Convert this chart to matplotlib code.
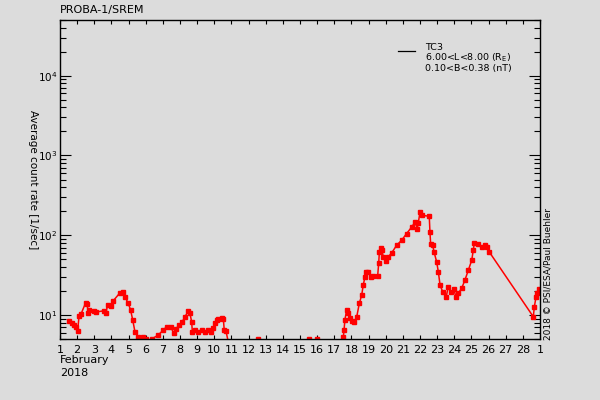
import numpy as np
import matplotlib
matplotlib.use("Agg")
import matplotlib.pyplot as plt
from matplotlib.ticker import FixedLocator, LogLocator, NullFormatter

# ---- data (day of February 2018, average count rate [1/sec]) ----
days = [1.52, 1.68, 1.82, 1.92, 2.03, 2.11, 2.22, 2.50, 2.58, 2.65, 2.69, 3.00, 3.10,
        3.58, 3.68, 3.78, 3.98, 4.11, 4.50, 4.69, 4.79, 4.98, 5.12, 5.24, 5.37, 5.55,
        5.86, 6.00, 6.20, 6.35, 6.73, 7.03, 7.22, 7.47, 7.63, 7.75, 7.94, 8.13, 8.29,
        8.48, 8.58, 8.68, 8.72, 8.87, 9.07, 9.27, 9.46, 9.65, 9.79, 9.94, 10.04, 10.14,
        10.23, 10.47, 10.53, 10.58, 10.68, 11.0, 12.57, 14.0, 15.53, 15.75, 15.97, 17.0,
        17.49, 17.53, 17.57, 17.62, 17.72, 17.82, 17.92, 18.02, 18.15, 18.31, 18.46,
        18.60, 18.69, 18.79, 18.85, 18.98, 19.12, 19.28, 19.53, 19.59, 19.63, 19.71,
        19.78, 19.86, 20.00, 20.15, 20.35, 20.64, 20.93, 21.22, 21.52, 21.71, 21.84,
        21.90, 22.00, 22.10, 22.54, 22.58, 22.62, 22.74, 22.82, 22.97, 23.07, 23.17,
        23.32, 23.52, 23.65, 23.79, 23.98, 24.10, 24.23, 24.43, 24.62, 24.82, 25.02,
        25.11, 25.17, 25.40, 25.60, 25.79, 25.89, 26.04, 28.61, 28.67, 28.77, 28.84,
        28.92]
rates = [8.5, 8.0, 7.5, 7.1, 6.3, 9.7, 10.2, 14.3, 13.7, 10.5, 11.5, 11.3, 10.9,
         11.3, 10.7, 13.3, 13.0, 15.1, 19.0, 19.6, 16.9, 14.0, 11.5, 8.7, 6.2, 5.3,
         5.35, 5.0, 4.0, 5.0, 5.6, 6.5, 7.1, 7.1, 5.9, 6.6, 7.5, 8.2, 9.5,
         11.2, 10.5, 8.2, 6.2, 6.4, 6.2, 6.4, 6.2, 6.5, 6.2, 6.8, 7.9, 8.7,
         8.8, 9.25, 8.8, 6.5, 6.3, 3.0, 5.0, 3.0, 5.0, 3.0, 5.0, 3.0,
         4.0, 5.35, 6.5, 8.7, 11.5, 10.5, 9.1, 8.5, 8.2, 9.5, 14.0,
         17.8, 23.7, 30.1, 34.8, 34.8, 30.1, 30.7, 31.0, 44.3, 61.8, 68.2,
         64.9, 53.5, 47.7, 53.5, 60.1, 75.0, 86.6, 105.0, 127.0, 146.6, 121.0,
         142.6, 195.0, 178.0, 173.0, 110.0, 78.7, 75.0, 61.8, 46.4, 34.8, 23.7,
         19.6, 16.6, 22.6, 19.6, 20.9, 16.6, 18.7, 21.6, 27.4, 36.5, 48.7,
         64.9, 80.1, 77.2, 71.4, 75.0, 70.2, 61.8, 9.5, 12.7, 16.9, 18.7,
         21.0]

xtick_pos = list(range(1, 30))
xtick_labels = [str(d) for d in range(1, 29)] + ["1"]
ytick_pos = [10, 100, 1000, 10000]
ytick_labels = [r"10$^1$", r"10$^2$", r"10$^3$", r"10$^4$"]

bg = "#dcdcdc"
fig = plt.figure(figsize=(6, 4), dpi=100, facecolor=bg)
ax = fig.add_axes([0.1, 0.1525, 0.8, 0.7975], facecolor=bg)

ax.plot(days, rates, color="#ff0000", lw=1.1, marker="s", ms=2.3,
        mec="#ff0000", mfc="#ff0000", clip_on=True)

ax.set_yscale("log")
ax.set_xlim(1, 29)
ax.set_ylim(5, 5e4)

ax.xaxis.set_major_locator(FixedLocator(xtick_pos))
ax.set_xticklabels(xtick_labels)
ax.yaxis.set_major_locator(FixedLocator(ytick_pos))
ax.set_yticklabels(ytick_labels)
ax.yaxis.set_minor_locator(LogLocator(base=10, subs=np.arange(2, 10)))
ax.yaxis.set_minor_formatter(NullFormatter())

ax.tick_params(axis="x", which="major", direction="in", length=3, width=0.8,
               top=True, bottom=True, labelsize=8, pad=4, colors="black")
ax.tick_params(axis="y", which="major", direction="in", length=8, width=0.8,
               left=True, right=True, labelsize=7.5, pad=2)
ax.tick_params(axis="y", which="minor", direction="in", length=4.3, width=0.8,
               left=True, right=True)
for s in ax.spines.values():
    s.set_linewidth(1.0)
    s.set_color("black")

ax.set_ylabel("Average count rate [1/sec]", fontsize=7.5, rotation=270,
              va="center", ha="center")
ax.yaxis.set_label_coords(-0.056, 0.5)

def px(x, y):
    return x / 600.0, 1 - y / 400.0

fig.text(*px(60, 10), "PROBA-1/SREM", fontsize=8, va="center", ha="left")
fig.text(*px(60, 360), "February", fontsize=8, va="center", ha="left")
fig.text(*px(60, 373), "2018", fontsize=8, va="center", ha="left")
fig.text(*px(548, 274), "2018 \u00a9 PSI/ESA/Paul Buehler", fontsize=6.5,
         rotation=90, va="center", ha="center")

# legend
ax.plot([0.705, 0.74], [0.903, 0.903], transform=ax.transAxes, color="black",
        lw=0.9, clip_on=False)
fig.text(*px(425, 43), "TC3\n" + r"6.00<L<8.00 (R$_\mathrm{E}$)" + "\n0.10<B<0.38 (nT)",
         fontsize=6.8, va="top", ha="left", linespacing=0.95)

fig.savefig("out.png", dpi=100, facecolor=bg)
